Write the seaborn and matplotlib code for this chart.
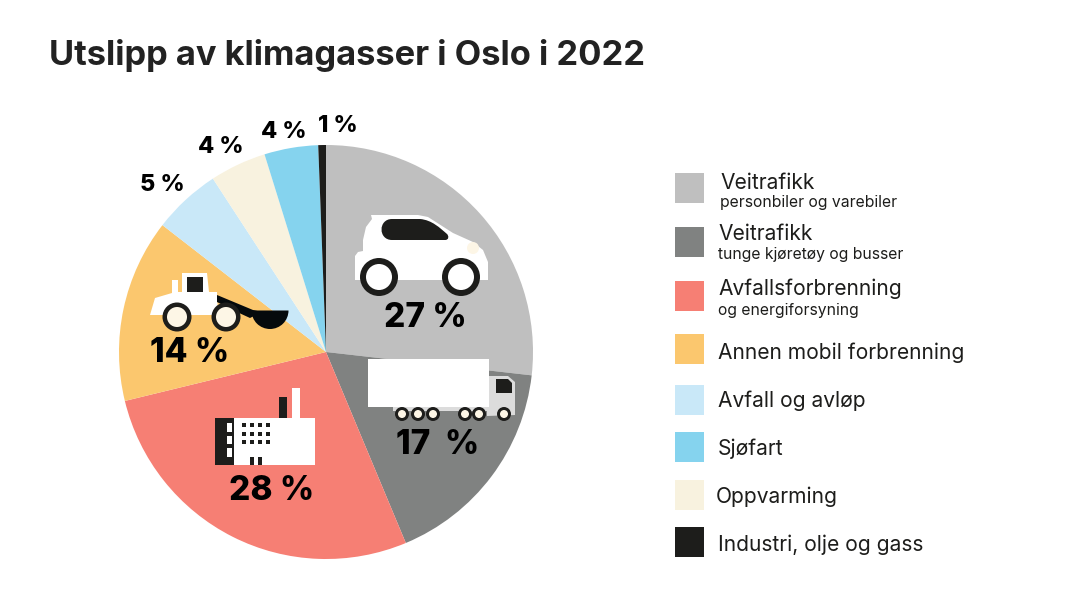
# -*- coding: utf-8 -*-
import matplotlib
matplotlib.use('Agg')
import matplotlib.pyplot as plt
from matplotlib.patches import Circle, PathPatch, Polygon, Rectangle, Wedge
from matplotlib.path import Path
import seaborn as sns

# Shares of emissions (clockwise from the top)
sectors = ['Veitrafikk personbiler', 'Veitrafikk tunge', 'Avfallsforbrenning', 'Annen mobil',
           'Avfall og avløp', 'Oppvarming', 'Sjøfart', 'Industri']
shares = [26.8, 16.9, 27.5, 14.3, 5.3, 4.4, 4.2, 0.6]
share_labels = ['27 %', '17  %', '28 %', '14 %', '5 %', '4 %', '4 %', '1 %']
colors = ['#bfbfbf', '#808281', '#f67f74', '#fbc76e', '#c9e8f8', '#f8f2df', '#85d3ee', '#1d1d1b']

title = 'Utslipp av klimagasser i Oslo i 2022'
legend_main = ['Veitrafikk', 'Veitrafikk', 'Avfallsforbrenning', 'Annen mobil forbrenning',
               'Avfall og avløp', 'Sjøfart', 'Oppvarming', 'Industri, olje og gass']
legend_sub = ['personbiler og varebiler', 'tunge kjøretøy og busser', 'og energiforsyning',
              None, None, None, None, None]
legend_colors = ['#bfbfbf', '#808281', '#f67f74', '#fbc76e', '#c9e8f8', '#85d3ee', '#f8f2df', '#1d1d1b']

sns.set_theme(style='white')
plt.rcParams['font.family'] = ['Inter', 'DejaVu Sans']

DARK = '#1d1d1b'
CREAM = '#fdf6e6'

fig = plt.figure(figsize=(10.8, 6.08), dpi=100)
ax = fig.add_axes([0, 0, 1, 1])

# y axis is flipped below, so counterclock here runs clockwise on screen
ax.pie(shares, colors=sns.color_palette(colors), center=(326, 352), radius=207,
       startangle=270, counterclock=True, wedgeprops={'linewidth': 0})
ax.set_xlim(0, 1080)
ax.set_ylim(608, 0)
ax.set_aspect('equal')
ax.axis('off')


def poly(points, color):
    ax.add_patch(Polygon(points, closed=True, facecolor=color, edgecolor='none', zorder=3))


def box(x0, y0, x1, y1, color):
    ax.add_patch(Rectangle((x0, y0), x1 - x0, y1 - y0, facecolor=color, edgecolor='none', zorder=3))


def wheel(x, y, r_out, r_in, inner=CREAM):
    ax.add_patch(Circle((x, y), r_out, facecolor=DARK, edgecolor='none', zorder=4))
    ax.add_patch(Circle((x, y), r_in, facecolor=inner, edgecolor='none', zorder=5))


# Car
poly([(355, 280), (355, 256), (358, 252), (363, 251), (363, 240), (366, 227), (372, 219), (371, 215),
      (418, 215), (428, 217), (453, 233), (473, 242), (483, 250), (488, 262), (488, 280)], 'white')
ax.add_patch(Circle((473, 248), 6, facecolor=CREAM, edgecolor='none', zorder=3))
window = Path([(392, 219), (420, 219), (432, 220), (440, 228), (447, 234), (449, 236), (449, 240), (445, 240),
               (392, 240), (378, 240), (378, 219), (392, 219)],
              [Path.MOVETO, Path.LINETO, Path.CURVE4, Path.CURVE4, Path.CURVE4, Path.CURVE4, Path.CURVE4,
               Path.CURVE4, Path.LINETO, Path.CURVE4, Path.CURVE4, Path.CURVE4])
ax.add_patch(PathPatch(window, facecolor=DARK, edgecolor='none', zorder=3))
wheel(379, 277, 19, 13, 'white')
wheel(461, 277, 19, 13, 'white')

# Truck
poly([(487, 376), (508, 376), (515, 382), (515, 415), (487, 416)], '#dcdcdc')
poly([(496, 379), (508, 379), (512, 383), (512, 393), (496, 393)], DARK)
box(393, 406, 489, 411, '#dcdcdc')
box(368, 359, 489, 407, 'white')
for wx in [402, 418, 433, 465, 479, 504]:
    wheel(wx, 414, 7, 4)

# Wheel loader
poly([(150, 315), (155, 298), (172, 293), (172, 280), (178, 280), (178, 292), (182, 292), (182, 273),
      (207, 273), (209, 292), (217, 292), (218, 315)], 'white')
box(187, 277, 203, 292, DARK)
poly([(217, 295), (253, 310), (262, 312), (250, 318), (237, 312), (217, 302)], '#050a0c')
ax.add_patch(Wedge((270, 310.5), 18.5, 0, 180, facecolor='#050a0c', edgecolor='none', zorder=3))
wheel(177, 317, 14.5, 10)
wheel(226, 317, 14.5, 10)

# Factory
box(215, 418, 315, 465, 'white')
box(215, 418, 234, 465, DARK)
box(279, 397, 287, 418, DARK)
box(292, 388, 300, 418, 'white')
for y0, y1 in [(423, 432), (436, 444), (448, 457)]:
    box(227, y0, 232, y1, 'white')
for wy in [425, 434, 442]:
    for wx in [244, 252, 260, 268]:
        box(wx - 2.3, wy - 2.3, wx + 2.3, wy + 2.3, DARK)
box(250, 457, 254, 465, DARK)
box(258, 457, 262, 465, DARK)

# Share labels, big inside the pie and smaller outside
label_x = [425, 438, 272, 190, 162, 221, 284, 338]
label_y = [318, 445, 491, 353, 185, 147, 132, 126]
label_size = [24, 24, 24, 24, 17, 17, 17, 17]
for lab, lx, ly, ls in zip(share_labels, label_x, label_y, label_size):
    ax.text(lx, ly, lab, ha='center', va='center', fontsize=ls, fontweight=800, color='black', zorder=6)

ax.text(49, 55, title, ha='left', va='center', fontsize=24.8, fontweight='bold', color='#222222')

# Legend
swatch_y = [173, 227, 281, 334, 385, 432, 480, 527]
text_x = [720, 718, 718, 718, 718, 718, 716, 718]
main_y = [183, 234, 289, 353, 401, 449, 497, 545]
sub_y = [203, 254, 310, None, None, None, None, None]
for i, name in enumerate(legend_main):
    ax.add_patch(Rectangle((675, swatch_y[i]), 29, 30, facecolor=legend_colors[i], edgecolor='none'))
    ax.text(text_x[i], main_y[i], name, ha='left', va='center', fontsize=15.1, color=DARK)
    if legend_sub[i]:
        ax.text(text_x[i], sub_y[i], legend_sub[i], ha='left', va='center', fontsize=11.3, color=DARK)

fig.savefig('out.png', dpi=100)
